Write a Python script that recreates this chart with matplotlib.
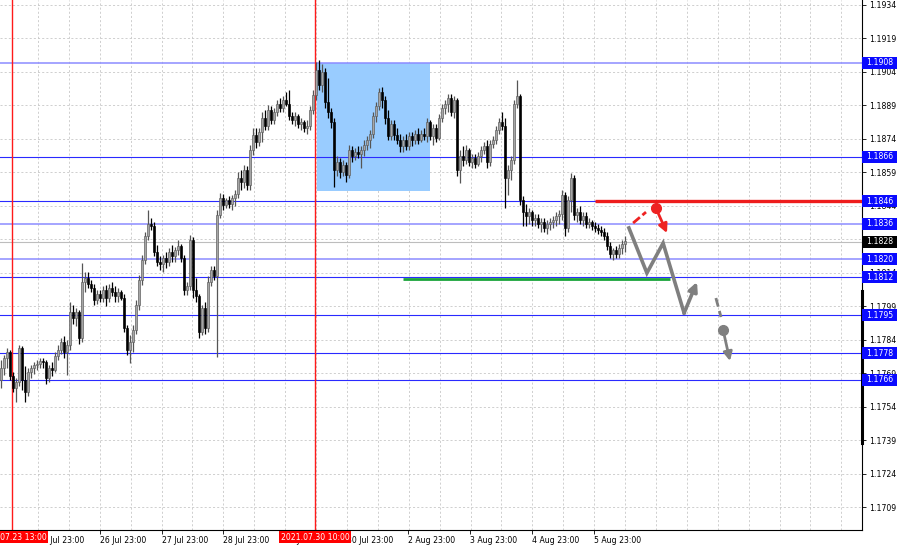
import matplotlib
matplotlib.use('Agg')
import matplotlib.pyplot as plt
from matplotlib.patches import Rectangle
import matplotlib.transforms as mtrans

plt.rcParams['font.family'] = ['DejaVu Sans']

# ---------------- data (EURUSD H1) ----------------
first_open = 1.17660
closes = [
    1.17713, 1.17758, 1.17785, 1.17677, 1.17624, 1.17651, 1.17803, 1.17660, 1.17606, 1.17695,
    1.17713, 1.17727, 1.17731, 1.17745, 1.17740, 1.17668, 1.17713, 1.17704, 1.17767, 1.17794,
    1.17830, 1.17785, 1.17817, 1.17964, 1.17937, 1.17964, 1.17848, 1.18099, 1.18116, 1.18090,
    1.18072, 1.18018, 1.18045, 1.18027, 1.18063, 1.18027, 1.18072, 1.18054, 1.18036, 1.18054,
    1.18027, 1.17892, 1.17794, 1.17830, 1.17884, 1.17996, 1.18108, 1.18197, 1.18305, 1.18358,
    1.18349, 1.18233, 1.18188, 1.18179, 1.18206, 1.18188, 1.18233, 1.18215, 1.18242, 1.18260,
    1.18206, 1.18063, 1.18081, 1.18287, 1.18063, 1.18036, 1.17875, 1.17982, 1.17892, 1.18099,
    1.18152, 1.18125, 1.18399, 1.18475, 1.18444, 1.18466, 1.18448, 1.18475, 1.18493, 1.18564,
    1.18547, 1.18600, 1.18534, 1.18690, 1.18758, 1.18726, 1.18771, 1.18833, 1.18797, 1.18869,
    1.18824, 1.18860, 1.18896, 1.18878, 1.18914, 1.18896, 1.18842, 1.18824, 1.18842, 1.18806,
    1.18815, 1.18788, 1.18797, 1.18869, 1.18937, 1.19048, 1.18982, 1.19039, 1.18905, 1.18860,
    1.18815, 1.18600, 1.18636, 1.18591, 1.18623, 1.18578, 1.18690, 1.18663, 1.18681, 1.18672,
    1.18690, 1.18713, 1.18735, 1.18762, 1.18842, 1.18887, 1.18950, 1.18914, 1.18833, 1.18753,
    1.18806, 1.18758, 1.18735, 1.18708, 1.18735, 1.18708, 1.18753, 1.18735, 1.18762, 1.18735,
    1.18762, 1.18753, 1.18815, 1.18753, 1.18788, 1.18744, 1.18833, 1.18878, 1.18896, 1.18923,
    1.18860, 1.18914, 1.18600, 1.18663, 1.18645, 1.18690, 1.18636, 1.18654, 1.18627, 1.18663,
    1.18690, 1.18708, 1.18636, 1.18717, 1.18735, 1.18780, 1.18815, 1.18797, 1.18564, 1.18600,
    1.18645, 1.18896, 1.18932, 1.18466, 1.18412, 1.18394, 1.18412, 1.18376, 1.18385, 1.18358,
    1.18367, 1.18340, 1.18358, 1.18367, 1.18376, 1.18394, 1.18403, 1.18489, 1.18340, 1.18466,
    1.18564, 1.18399, 1.18412, 1.18376, 1.18394, 1.18358, 1.18367, 1.18349, 1.18340, 1.18332,
    1.18323, 1.18305, 1.18260, 1.18224, 1.18242, 1.18224, 1.18251, 1.18269, 1.18283,
]
highs = [
    1.17749, 1.17772, 1.17803, 1.17794, 1.17695, 1.17668, 1.17817, 1.17812, 1.17722, 1.17713,
    1.17727, 1.17740, 1.17749, 1.17758, 1.17758, 1.17749, 1.17727, 1.17740, 1.17785, 1.17817,
    1.17848, 1.17857, 1.17839, 1.18009, 1.17996, 1.17982, 1.17973, 1.18184, 1.18143, 1.18143,
    1.18108, 1.18090, 1.18063, 1.18063, 1.18081, 1.18086, 1.18090, 1.18099, 1.18081, 1.18072,
    1.18063, 1.18045, 1.17906, 1.17862, 1.17906, 1.18018, 1.18130, 1.18220, 1.18323, 1.18421,
    1.18385, 1.18367, 1.18265, 1.18215, 1.18220, 1.18233, 1.18251, 1.18265, 1.18256, 1.18287,
    1.18269, 1.18220, 1.18099, 1.18310, 1.18301, 1.18116, 1.18045, 1.17996, 1.18009, 1.18125,
    1.18170, 1.18170, 1.18421, 1.18498, 1.18493, 1.18475, 1.18484, 1.18489, 1.18511, 1.18591,
    1.18600, 1.18623, 1.18618, 1.18713, 1.18788, 1.18788, 1.18788, 1.18860, 1.18869, 1.18892,
    1.18887, 1.18878, 1.18914, 1.18923, 1.18932, 1.18950, 1.18959, 1.18860, 1.18860, 1.18851,
    1.18833, 1.18824, 1.18824, 1.18887, 1.18959, 1.19084, 1.19093, 1.19075, 1.19057, 1.19012,
    1.18878, 1.18833, 1.18663, 1.18654, 1.18645, 1.18636, 1.18713, 1.18708, 1.18699, 1.18708,
    1.18708, 1.18735, 1.18753, 1.18780, 1.18860, 1.18905, 1.18968, 1.18973, 1.18932, 1.18869,
    1.18824, 1.18824, 1.18788, 1.18762, 1.18753, 1.18762, 1.18771, 1.18771, 1.18780, 1.18788,
    1.18780, 1.18788, 1.18833, 1.18824, 1.18806, 1.18806, 1.18851, 1.18896, 1.18914, 1.18941,
    1.18941, 1.18932, 1.18923, 1.18690, 1.18708, 1.18713, 1.18699, 1.18672, 1.18672, 1.18681,
    1.18708, 1.18726, 1.18735, 1.18735, 1.18753, 1.18797, 1.18833, 1.18860, 1.18833, 1.18623,
    1.18663, 1.18914, 1.19004, 1.18941, 1.18484, 1.18448, 1.18430, 1.18421, 1.18403, 1.18403,
    1.18385, 1.18385, 1.18376, 1.18385, 1.18394, 1.18412, 1.18421, 1.18511, 1.18502, 1.18484,
    1.18587, 1.18578, 1.18430, 1.18439, 1.18412, 1.18412, 1.18385, 1.18376, 1.18367, 1.18358,
    1.18349, 1.18340, 1.18323, 1.18278, 1.18251, 1.18260, 1.18269, 1.18287, 1.18305,
]
lows = [
    1.17624, 1.17682, 1.17713, 1.17660, 1.17606, 1.17561, 1.17633, 1.17615, 1.17561, 1.17588,
    1.17668, 1.17686, 1.17704, 1.17713, 1.17713, 1.17642, 1.17651, 1.17677, 1.17695, 1.17749,
    1.17776, 1.17758, 1.17682, 1.17794, 1.17910, 1.17901, 1.17821, 1.17830, 1.18054, 1.18072,
    1.18054, 1.17996, 1.18000, 1.18009, 1.18009, 1.17991, 1.18009, 1.18036, 1.18009, 1.18009,
    1.18018, 1.17875, 1.17772, 1.17736, 1.17785, 1.17866, 1.17973, 1.18086, 1.18179, 1.18287,
    1.18332, 1.18215, 1.18170, 1.18152, 1.18143, 1.18161, 1.18170, 1.18188, 1.18188, 1.18220,
    1.18188, 1.18041, 1.18041, 1.18063, 1.18027, 1.18009, 1.17848, 1.17862, 1.17866, 1.17875,
    1.18081, 1.18108, 1.17763, 1.18385, 1.18421, 1.18430, 1.18430, 1.18421, 1.18439, 1.18475,
    1.18511, 1.18520, 1.18511, 1.18511, 1.18668, 1.18699, 1.18708, 1.18726, 1.18780, 1.18780,
    1.18806, 1.18806, 1.18842, 1.18860, 1.18860, 1.18887, 1.18824, 1.18806, 1.18797, 1.18788,
    1.18780, 1.18771, 1.18762, 1.18780, 1.18851, 1.18914, 1.18959, 1.18950, 1.18878, 1.18833,
    1.18788, 1.18525, 1.18573, 1.18564, 1.18573, 1.18547, 1.18564, 1.18636, 1.18645, 1.18654,
    1.18609, 1.18663, 1.18690, 1.18699, 1.18744, 1.18815, 1.18869, 1.18878, 1.18806, 1.18735,
    1.18735, 1.18735, 1.18717, 1.18681, 1.18681, 1.18690, 1.18690, 1.18708, 1.18717, 1.18717,
    1.18726, 1.18735, 1.18726, 1.18735, 1.18713, 1.18726, 1.18735, 1.18815, 1.18851, 1.18860,
    1.18842, 1.18833, 1.18573, 1.18543, 1.18618, 1.18627, 1.18618, 1.18609, 1.18609, 1.18618,
    1.18636, 1.18672, 1.18609, 1.18618, 1.18699, 1.18717, 1.18762, 1.18780, 1.18430, 1.18489,
    1.18556, 1.18627, 1.18878, 1.18444, 1.18349, 1.18349, 1.18358, 1.18349, 1.18349, 1.18340,
    1.18323, 1.18323, 1.18314, 1.18332, 1.18340, 1.18349, 1.18358, 1.18376, 1.18305, 1.18323,
    1.18412, 1.18376, 1.18367, 1.18358, 1.18349, 1.18340, 1.18340, 1.18332, 1.18323, 1.18314,
    1.18305, 1.18287, 1.18242, 1.18206, 1.18197, 1.18206, 1.18206, 1.18224, 1.18233,
]

price_ticks = [1.1934, 1.1919, 1.1904, 1.1889, 1.1874, 1.1859, 1.1844, 1.1829,
               1.1814, 1.1799, 1.1784, 1.1769, 1.1754, 1.1739, 1.1724, 1.1709]
level_prices = [1.1908, 1.1866, 1.1846, 1.1836, 1.1820, 1.1812, 1.1795, 1.1778, 1.1766]
level_light = [1.1908, 1.1836, 1.1820]
current_price = 1.1828

day_ticks = [12.3, 33.0, 53.7, 74.0, 94.7, 115.3, 135.7, 156.3, 177.0, 197.7]
day_labels = ['23 Jul 23:00', '26 Jul 23:00', '27 Jul 23:00', '28 Jul 23:00',
              '29 Jul 23:00', '30 Jul 23:00', '2 Aug 23:00', '3 Aug 23:00',
              '4 Aug 23:00', '5 Aug 23:00']
marker_bars = [3.67, 104.67]
marker_labels = ['2021.07.23 13:00', '2021.07.30 10:00']

# drawn objects (bar index, price)
zone = dict(x0=105.3, x1=143.0, p_low=1.18506, p_high=1.1908)
green_line = dict(x0=134.0, x1=223.0, price=1.18112)
red_line = dict(x0=198.0, x1=287.0, price=1.1846)
red_dash = ([210.7, 215.0], [1.18363, 1.18412])
red_dot = (218.3, 1.18430)
red_arrow_end = (222.0, 1.18318)
gray_path_x = [209.3, 215.3, 220.7, 227.7, 232.0]
gray_path_p = [1.18341, 1.18139, 1.18273, 1.17960, 1.18099]
gray_dash = ([238.3, 240.0], [1.18027, 1.17942])
gray_dot = (240.7, 1.17884)
gray_arrow_end = (243.0, 1.17745)

# ---------------- figure ----------------
fig = plt.figure(figsize=(9, 5.46), dpi=100)
ax = fig.add_axes([0, 16 / 546, 862 / 900, 530 / 546])
ax.set_xlim(-1 / 3, 287)
ax.set_ylim(1.16988, 1.19362)
ax.set_facecolor('white')

grid_kw = dict(color='#c8c8c8', lw=0.6, ls=(0, (2.5, 2.5)), zorder=0)
for p in price_ticks:
    ax.axhline(p, **grid_kw)
k = 0
while 12.3 + 10.3 * k < 287:
    ax.axvline(12.3 + 10.3 * k, **grid_kw)
    k += 1

# zone rectangle
ax.add_patch(Rectangle((zone['x0'], zone['p_low']), zone['x1'] - zone['x0'],
                       zone['p_high'] - zone['p_low'], fc='#99ccff', ec='none', zorder=0.6))

# current price line
ax.axhline(current_price, color='#bdbdbd', lw=0.8, zorder=0.8)

# level lines
for p in level_prices:
    if p in level_light:
        ax.axhline(p, color='#8c8cff', lw=1.1, zorder=1)
    else:
        ax.axhline(p, color='#2a2aff', lw=0.8, zorder=1)

# red vertical marker lines
for xb in marker_bars:
    ax.axvline(xb, color='#ff1a1a', lw=1.0, zorder=1.2)

# candles
n = min(len(closes), len(highs), len(lows))
opens = [first_open] + closes[:n - 1]
xs = list(range(n))
bull = [closes[i] >= opens[i] for i in range(n)]
wick_cols = ['#555555' if b else '#000000' for b in bull]
ax.vlines(xs, lows[:n], highs[:n], colors=wick_cols, lw=0.9, zorder=3)
bottoms = [min(opens[i], closes[i]) for i in range(n)]
heights = [max(abs(closes[i] - opens[i]), 0.00003) for i in range(n)]
faces = ['#a6a6a6' if b else '#000000' for b in bull]
edges = ['#5a5a5a' if b else '#000000' for b in bull]
ax.bar(xs, heights, bottom=bottoms, width=0.66, color=faces, edgecolor=edges,
       linewidth=0.45, zorder=4)

# green and red horizontal segments
ax.plot([green_line['x0'], green_line['x1']], [green_line['price']] * 2,
        color='#1aa33a', lw=2.0, zorder=5, solid_capstyle='butt')
ax.plot([red_line['x0'], red_line['x1']], [red_line['price']] * 2,
        color='#ee1c1c', lw=2.4, zorder=5, solid_capstyle='butt')

# red scenario
ax.plot(*red_dash, color='#ee2222', lw=2.0, ls=(0, (3.2, 1.2)), zorder=6)
ax.plot([red_dot[0]], [red_dot[1]], 'o', color='#ee2222', ms=7, zorder=6)
ax.annotate('', xy=red_arrow_end, xytext=red_dot,
            arrowprops=dict(arrowstyle='-|>', color='#ee2222', lw=2.0,
                            mutation_scale=13, shrinkA=0, shrinkB=0), zorder=6)

# gray scenario
ax.plot(gray_path_x[:-1], gray_path_p[:-1], color='#7f7f7f', lw=2.6, zorder=6,
        solid_joinstyle='miter')
ax.annotate('', xy=(gray_path_x[-1], gray_path_p[-1]),
            xytext=(gray_path_x[-2], gray_path_p[-2]),
            arrowprops=dict(arrowstyle='-|>', color='#7f7f7f', lw=2.6,
                            mutation_scale=13, shrinkA=0, shrinkB=0), zorder=6)
ax.plot(*gray_dash, color='#7f7f7f', lw=2.0, ls=(0, (3.2, 1.6)), zorder=6)
ax.plot([gray_dot[0]], [gray_dot[1]], 'o', color='#7f7f7f', ms=7, zorder=6)
ax.annotate('', xy=gray_arrow_end, xytext=gray_dot,
            arrowprops=dict(arrowstyle='-|>', color='#7f7f7f', lw=2.0,
                            mutation_scale=13, shrinkA=0, shrinkB=0), zorder=6)

# spines / axes
for s in ['top', 'left']:
    ax.spines[s].set_visible(False)
for s in ['right', 'bottom']:
    ax.spines[s].set_color('black')
    ax.spines[s].set_linewidth(0.8)

ax.yaxis.tick_right()
ax.set_yticks(price_ticks)
ax.set_yticklabels([f'{p:.4f}' for p in price_ticks])
ax.tick_params(axis='y', length=3, width=0.6, labelsize=5.6, pad=2, colors='black')
ax.set_xticks(day_ticks)
ax.set_xticklabels(day_labels, ha='left')
ax.tick_params(axis='x', length=3, width=0.6, labelsize=5.6, pad=1.2, colors='black')

trans_y = mtrans.blended_transform_factory(ax.transAxes, ax.transData)
trans_x = mtrans.blended_transform_factory(ax.transData, ax.transAxes)

# right scrollbar-like thick segment
ax.plot([1.0, 1.0], [1.17377, 1.18058], transform=trans_y, color='black', lw=2.2,
        clip_on=False, zorder=9)

box_h = 0.00054
for p in level_prices:
    ax.add_patch(Rectangle((1.0, p - box_h / 2), 0.0406, box_h, transform=trans_y,
                           fc='#0a0aff', ec='none', clip_on=False, zorder=10))
    ax.text(1.0046, p, f'{p:.4f}', transform=trans_y, color='white', fontsize=5.6,
            va='center', ha='left', zorder=11, clip_on=False)
ax.add_patch(Rectangle((1.0, current_price - box_h / 2), 0.0406, box_h, transform=trans_y,
                       fc='black', ec='none', clip_on=False, zorder=10))
ax.text(1.0046, current_price, f'{current_price:.4f}', transform=trans_y, color='white',
        fontsize=5.6, va='center', ha='left', zorder=11, clip_on=False)

for xb, lab in zip(marker_bars, marker_labels):
    ax.text(xb, -0.0135, lab, transform=trans_x, ha='center', va='center', color='white',
            fontsize=5.6, zorder=12, clip_on=False,
            bbox=dict(boxstyle='square,pad=0.22', fc='#ff0000', ec='none'))

fig.savefig('out.png', dpi=100, facecolor='white')
